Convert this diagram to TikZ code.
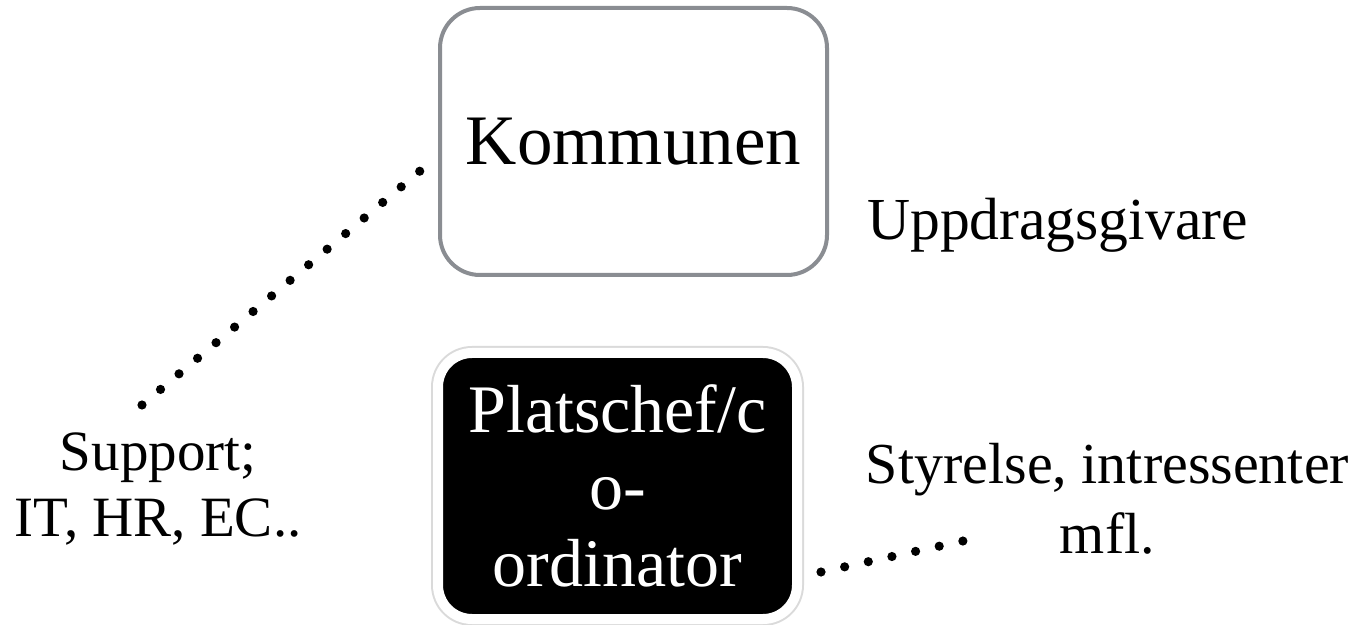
\documentclass[tikz,border=0pt]{standalone}
\usepackage{fontspec}
\setmainfont{Liberation Serif}
\usetikzlibrary{positioning}

\definecolor{boxgray}{RGB}{138,141,146}
\definecolor{shadowgray}{RGB}{218,218,218}

\tikzset{
  plainbox/.style={draw=boxgray, line width=2pt, rounded corners=20pt, fill=white},
  darkbox/.style={fill=black, draw=white, line width=5pt, rounded corners=17pt, text=white, align=center,
    preaction={draw=shadowgray, line width=7pt}},
  dotline/.style={line width=4.6pt, line cap=round, dash pattern=on 0pt off 12.1pt},
}

\begin{document}
\begin{tikzpicture}[x=0.5pt, y=-0.5pt, every node/.style={inner sep=0pt, outer sep=0pt}]

\useasboundingbox (0,0) rectangle (1359,625);

% Boxes
\node[plainbox, minimum width=193.5pt, minimum height=133.5pt, font=\fontsize{35.5}{38}\selectfont]
  at (633.5,141.5) (kommunen) {Kommunen};
\node[darkbox, minimum width=179.5pt, minimum height=133pt, font=\fontsize{34}{38.5}\selectfont]
  at (617.5,486) (platschef) {Platschef/c\\o-\\ordinator};

% Labels
\node[anchor=base, font=\fontsize{29.8}{32}\selectfont] at (1057.5,240) (uppdrag) {Uppdragsgivare};
\node[align=center, font=\fontsize{28.5}{33}\selectfont] at (158,489) (support) {Support;\\IT, HR, EC..};
\node[align=center, font=\fontsize{29}{35}\selectfont] at (1107.5,499) (styrelse) {Styrelse, intressenter\\mfl.};

% Free ends of the dotted lines
\coordinate (supportTip) at (142,405);
\coordinate (styrelseTip) at (963,541);

% Dotted lines
\draw[dotline] (supportTip) -- ([xshift=-10pt, yshift=-14.75pt]kommunen.west);
\draw[dotline] ([xshift=12pt, yshift=-43pt]platschef.east) -- (styrelseTip);

\end{tikzpicture}
\end{document}
